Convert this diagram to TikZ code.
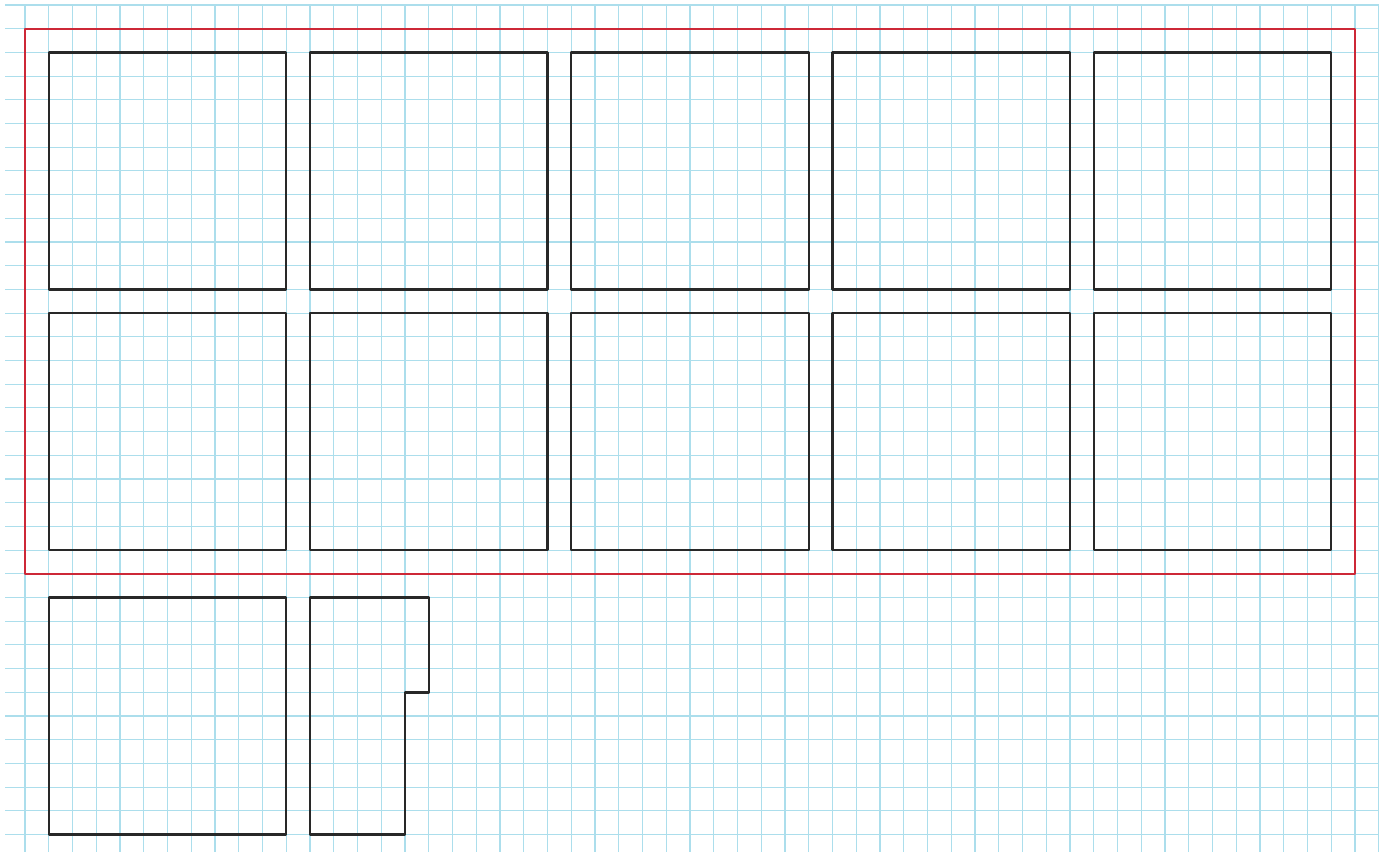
\documentclass[tikz,border=0pt]{standalone}
\definecolor{gridblue}{RGB}{172,222,236}
\definecolor{inkred}{RGB}{205,40,55}
\definecolor{inkblack}{RGB}{40,40,40}
\tikzset{
  gridline/.style={draw=gridblue, line width=1.1pt},
  framebox/.style={draw=inkred, line width=2pt, line join=round},
  roombox/.style={draw=inkblack, line width=2.4pt, line join=round}
}
\begin{document}
\begin{tikzpicture}[x=23.75pt,y=-23.7pt]
  \useasboundingbox[fill=white] (-25pt,5pt) rectangle (1363pt,-847pt);
  % graph paper
  \foreach \i in {0,...,57} \draw[gridline] (\i,0) -- (\i,35.75);
  \foreach \k in {0,...,35} \draw[gridline] (-0.84,\k) -- (57,\k);
  % red frame
  \draw[framebox] (0,1) rectangle (56,24);
  % two rows of five boxes
  \foreach \r in {2,13} {
    \foreach \c in {1,12,23,34,45} {
      \draw[roombox] (\c,\r) rectangle ({\c+10},{\r+10});
    }
  }
  % bottom row
  \draw[roombox] (1,25) rectangle (11,35);
  \draw[roombox] (12,25) -- (17,25) -- (17,29) -- (16,29) -- (16,35) -- (12,35) -- cycle;
\end{tikzpicture}
\end{document}
